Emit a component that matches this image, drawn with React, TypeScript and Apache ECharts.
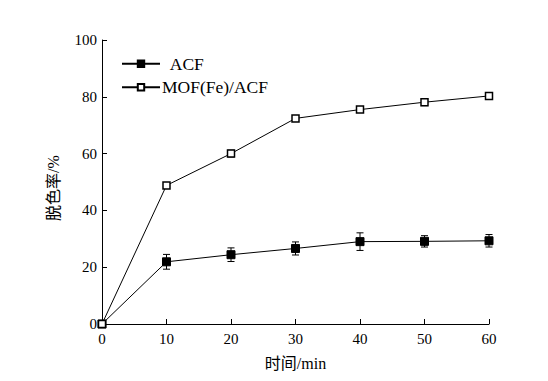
import React, { useEffect, useRef } from "react";
import * as echarts from "echarts";

const times = [0, 10, 20, 30, 40, 50, 60];
const acf = [0, 21.9, 24.4, 26.6, 29.0, 29.1, 29.3];
const acfErr = [0, 2.6, 2.4, 2.3, 3.1, 2.0, 2.2];
const mof = [0, 48.8, 60.0, 72.4, 75.5, 78.1, 80.3];
const mofErr = [0, 0.9, 1.2, 0.9, 0.9, 1.2, 0.9];
const yTicks = [0, 20, 40, 60, 80, 100];

const FONT = "'Liberation Serif', 'Noto Sans CJK SC', serif";

function errorSeries(vals: number[], errs: number[]) {
  return {
    type: "custom",
    silent: true,
    z: 1,
    data: times.map((t, i) => [t, vals[i] - errs[i], vals[i] + errs[i]]),
    renderItem: (params: any, api: any) => {
      const x = api.value(0);
      const lo = api.coord([x, api.value(1)]);
      const hi = api.coord([x, api.value(2)]);
      const w = 3.5;
      const style = { stroke: "#000", lineWidth: 1, fill: "none" };
      return {
        type: "group",
        children: [
          { type: "line", shape: { x1: lo[0], y1: lo[1], x2: hi[0], y2: hi[1] }, style },
          { type: "line", shape: { x1: lo[0] - w, y1: lo[1], x2: lo[0] + w, y2: lo[1] }, style },
          { type: "line", shape: { x1: hi[0] - w, y1: hi[1], x2: hi[0] + w, y2: hi[1] }, style },
        ],
      };
    },
  };
}

export default function App() {
  const ref = useRef<HTMLDivElement>(null);
  useEffect(() => {
    if (!ref.current) return;
    const chart = echarts.init(ref.current, undefined, { renderer: "svg" });
    chart.setOption({
      animation: false,
      backgroundColor: "#fff",
      grid: { left: 102, right: 59, top: 40, bottom: 57 },
      legend: {
        orient: "vertical",
        left: 121,
        top: 55,
        padding: 0,
        itemWidth: 38,
        itemHeight: 8,
        itemGap: 6,
        data: ["ACF", "MOF(Fe)/ACF"],
        formatter: (n: string) => (n === "ACF" ? "  " + n : n),
        textStyle: { fontFamily: FONT, fontSize: 17.5, color: "#000", padding: [0, 0, 0, -3] },
      },
      xAxis: {
        type: "value",
        min: 0,
        max: 60,
        interval: 10,
        name: "时间/min",
        nameLocation: "middle",
        nameGap: 31,
        nameTextStyle: { fontFamily: FONT, fontSize: 16, color: "#000" },
        axisLine: { lineStyle: { color: "#000", width: 1 } },
        axisTick: { inside: true, length: 5, lineStyle: { color: "#000" } },
        axisLabel: { fontFamily: FONT, fontSize: 15, color: "#000", margin: 7 },
        splitLine: { show: false },
      },
      yAxis: {
        type: "value",
        min: 0,
        max: 100,
        interval: 20,
        name: "脱色率/%",
        nameLocation: "middle",
        nameGap: 41,
        nameTextStyle: { fontFamily: FONT, fontSize: 16, color: "#000", padding: [0, 12, 0, 0] },
        axisLine: { show: true, lineStyle: { color: "#000", width: 1 } },
        axisTick: { show: true, inside: true, length: 5, lineStyle: { color: "#000" } },
        axisLabel: {
          fontFamily: FONT,
          fontSize: 15,
          color: "#000",
          margin: 5,
          formatter: (v: number) => (yTicks.includes(v) ? String(v) : ""),
        },
        splitLine: { show: false },
      },
      series: [
        errorSeries(acf, acfErr),
        errorSeries(mof, mofErr),
        {
          name: "ACF",
          type: "line",
          z: 3,
          data: times.map((t, i) => [t, acf[i]]),
          symbol: "rect",
          symbolSize: 8,
          lineStyle: { color: "#000", width: 1 },
          itemStyle: { color: "#000", borderColor: "#000", borderWidth: 1 },
        },
        {
          name: "MOF(Fe)/ACF",
          type: "line",
          z: 3,
          data: times.map((t, i) => [t, mof[i]]),
          symbol: "rect",
          symbolSize: 7,
          lineStyle: { color: "#000", width: 1 },
          itemStyle: { color: "#fff", borderColor: "#000", borderWidth: 1.5 },
        },
      ],
    });
    return () => chart.dispose();
  }, []);
  return (
    <div
      ref={ref}
      style={{ position: "fixed", left: 0, top: 0, width: 548, height: 381 }}
    />
  );
}
